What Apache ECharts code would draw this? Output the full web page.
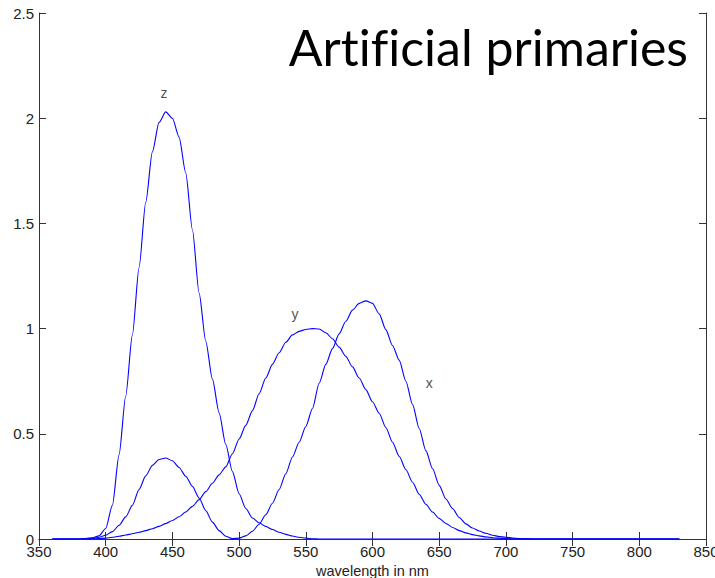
<!DOCTYPE html>
<html>
<head>
<meta charset="utf-8">
<script src="https://cdn.jsdelivr.net/npm/echarts@6/dist/echarts.min.js"></script>
<style>
html,body{margin:0;padding:0;background:#fff;overflow:hidden;}
#chart{width:715px;height:578px;overflow:hidden;}
#chart svg{display:block;}
#chart text{font-variant-ligatures:none !important;font-feature-settings:"liga" 0,"clig" 0,"dlig" 0 !important;}
</style>
</head>
<body>
<div id="chart"></div>
<script>
// Wavelengths (nm)
var wavelengths = [360,370,380,385,390,395,400,405,410,415,420,425,430,435,440,445,450,455,460,465,470,475,480,485,490,495,500,505,510,515,520,525,530,535,540,545,550,555,560,565,570,575,580,585,590,595,600,605,610,615,620,625,630,635,640,645,650,655,660,665,670,675,680,685,690,695,700,705,710,715,720,760,800,830];
// x-bar curve
var xValues = [0,0,0,0.001,0.003,0.008,0.018,0.035,0.065,0.105,0.16,0.235,0.30,0.35,0.378,0.385,0.372,0.34,0.298,0.25,0.195,0.135,0.08,0.04,0.013,0.002,0.004,0.015,0.037,0.07,0.115,0.17,0.235,0.31,0.39,0.46,0.535,0.62,0.74,0.83,0.905,0.975,1.035,1.088,1.12,1.132,1.12,1.07,0.995,0.92,0.85,0.75,0.64,0.525,0.42,0.335,0.255,0.19,0.145,0.102,0.072,0.052,0.038,0.027,0.018,0.012,0.008,0.005,0.002,0.001,0,0,0,0];
// y-bar curve
var yValues = [0,0,0,0,0.001,0.002,0.004,0.008,0.013,0.019,0.025,0.032,0.040,0.049,0.060,0.073,0.088,0.106,0.128,0.155,0.187,0.225,0.265,0.305,0.343,0.405,0.475,0.54,0.61,0.69,0.765,0.83,0.885,0.935,0.97,0.987,0.996,1.0,0.998,0.98,0.952,0.912,0.868,0.818,0.765,0.71,0.652,0.598,0.53,0.46,0.393,0.33,0.27,0.213,0.165,0.128,0.098,0.074,0.055,0.04,0.029,0.021,0.015,0.01,0.006,0.004,0.002,0.001,0,0,0,0,0,0];
// z-bar curve
var zValues = [0,0,0,0.002,0.006,0.015,0.05,0.16,0.40,0.68,0.97,1.29,1.60,1.84,1.98,2.03,2.00,1.91,1.74,1.47,1.17,0.94,0.76,0.60,0.45,0.32,0.215,0.145,0.10,0.077,0.06,0.045,0.032,0.022,0.014,0.008,0.004,0.001,0,0,0,0,0,0,0,0,0,0,0,0,0,0,0,0,0,0,0,0,0,0,0,0,0,0,0,0,0,0,0,0,0,0,0,0];
// Curve labels: text, wavelength, value
var curveLabels = [['z',443.7,2.12],['y',541.9,1.07],['x',642.5,0.74]];
var xTicks = [350,400,450,500,550,600,650,700,750,800,850];
var yTicks = [0,0.5,1,1.5,2,2.5];
var titleText = 'Artificial primaries';
var xAxisName = 'wavelength in nm';

function pairs(vals){ return wavelengths.map(function(w,i){ return [w, vals[i]]; }); }

var axisColor = '#333';

var chart = echarts.init(document.getElementById('chart'), null, {renderer:'svg', width:715, height:578});
var lineStyle = {color:'#0000ff', width:1.1};
chart.setOption({
  animation:false,
  backgroundColor:'#fff',
  grid:{left:39, right:9, top:13, bottom:39, containLabel:false, outerBoundsMode:'none'},
  graphic:[{
    type:'text', right:27, top:22, z:100,
    style:{text:titleText, font:'50px Lato', fill:'#000'}
  }],
  xAxis:[{
    type:'value', min:xTicks[0], max:xTicks[xTicks.length-1], interval:50, position:'bottom',
    name:xAxisName, nameLocation:'middle', nameGap:24,
    nameTextStyle:{fontFamily:'Liberation Sans', fontSize:14.5, color:'#222'},
    axisLine:{show:true, lineStyle:{color:axisColor, width:1}},
    axisTick:{show:true, inside:true, length:7, lineStyle:{color:axisColor}},
    axisLabel:{margin:7, fontFamily:'Liberation Sans', fontSize:15, lineHeight:11, color:'#222'},
    splitLine:{show:false}
  },{
    type:'value', min:xTicks[0], max:xTicks[xTicks.length-1], interval:50, position:'top',
    axisLine:{show:true, lineStyle:{color:axisColor, width:1}},
    axisTick:{show:true, inside:true, length:7, lineStyle:{color:axisColor}},
    axisLabel:{show:false}, splitLine:{show:false}
  }],
  yAxis:[{
    type:'value', min:yTicks[0], max:yTicks[yTicks.length-1], interval:0.5, position:'left',
    axisLine:{show:true, lineStyle:{color:axisColor, width:1}},
    axisTick:{show:true, inside:true, length:7, lineStyle:{color:axisColor}},
    axisLabel:{margin:5, fontFamily:'Liberation Sans', fontSize:15, lineHeight:11, color:'#222'},
    splitLine:{show:false}
  },{
    type:'value', min:yTicks[0], max:yTicks[yTicks.length-1], interval:0.5, position:'right',
    axisLine:{show:true, lineStyle:{color:axisColor, width:1}},
    axisTick:{show:true, inside:true, length:7, lineStyle:{color:axisColor}},
    axisLabel:{show:false}, splitLine:{show:false}
  }],
  series:[
    {type:'line', name:'x', data:pairs(xValues), showSymbol:false, symbol:'none', smooth:0.25, smoothMonotone:'x', lineStyle:lineStyle, xAxisIndex:0, yAxisIndex:0, z:3},
    {type:'line', name:'y', data:pairs(yValues), showSymbol:false, symbol:'none', smooth:0.25, smoothMonotone:'x', lineStyle:lineStyle, xAxisIndex:0, yAxisIndex:0, z:3},
    {type:'line', name:'z', data:pairs(zValues), showSymbol:false, symbol:'none', smooth:0.25, smoothMonotone:'x', lineStyle:lineStyle, xAxisIndex:0, yAxisIndex:0, z:3},
    {type:'scatter', name:'labels', symbolSize:1, itemStyle:{color:'rgba(0,0,0,0)'},
     data:curveLabels.map(function(l){ return {name:l[0], value:[l[1], l[2]]}; }),
     label:{show:true, position:'inside', formatter:'{b}', fontFamily:'Liberation Sans', fontSize:14, color:'#222'},
     xAxisIndex:0, yAxisIndex:0, z:4}
  ]
});
</script>
</body>
</html>
